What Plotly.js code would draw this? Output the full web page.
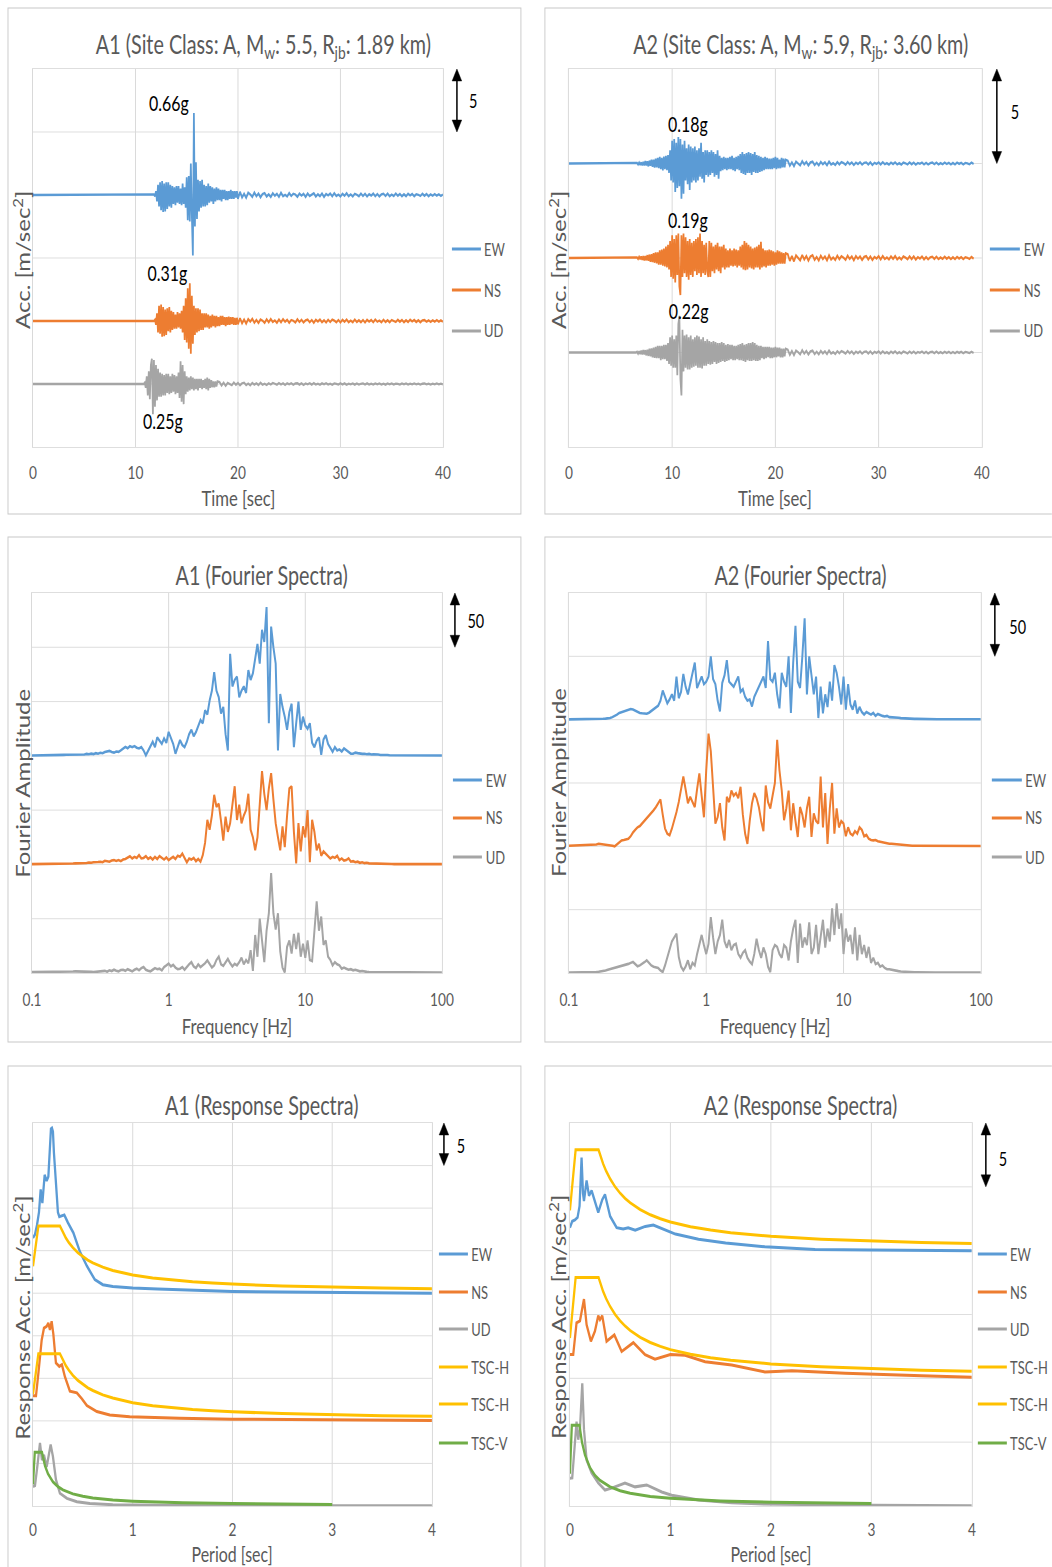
<!DOCTYPE html>
<html><head><meta charset="utf-8">
<script src="https://cdn.plot.ly/plotly-3.0.1.min.js"></script>
<style>
html,body{margin:0;padding:0;overflow:hidden;background:#fff;width:1052px;height:1567px;}
#wrap{position:absolute;left:0;top:0;transform-origin:0 0;}
</style></head><body><div id="wrap"></div>
<script>
// ================= DATA =================
// Accelerograms [m/s^2]; main part sampled every 0.1 s from its start time, coda every 0.2 s after it
const a1EW_t0 = 11.8;
const a1EW_main = [0.05,-0.1,0.3,-0.5,0.8,-0.9,1.0,-1.2,1.1,-1.35,0.9,-1.3,1.0,-1.1,1.0,-0.9,0.8,-1.0,0.7,-0.7,0.6,-0.8,0.7,-0.6,0.7,-0.7,0.5,-0.8,0.9,-0.7,0.6,-1.0,1.4,-2.0,1.5,-2.1,2.5,-1.6,-4.8,6.5,-2.5,2.6,-1.9,1.2,-1.3,1.1,-1.0,1.2,-0.9,0.8,-0.9,0.7,-0.8,0.9,-0.6,0.7,-0.5,0.6,-0.7,0.5,-0.5,0.6,-0.4,0.5,-0.4,0.4,-0.5,0.4,-0.3,0.4,-0.4,0.3,-0.4,0.3,-0.3,0.4,-0.3,0.3,-0.3,0.3,-0.2,0.3,-0.3];
const a1EW_coda = [0.25,-0.2,0.1,-0.22,0.18,0.05,-0.15,0.2,-0.1,0.12,
-0.18,0.08,0.15,-0.12,0.05,-0.16,0.14,-0.06,0.1,-0.15,
0.18,-0.1,0.02,-0.12,0.15,-0.08,0.1,0.04,-0.14,0.12,
-0.05,0.1,-0.15,0.12,-0.08,0.05,0.14,-0.12,0.06,-0.1,
0.12,-0.15,0.08,-0.04,0.12,-0.1,0.15,-0.08,0.04,-0.12,
0.1,-0.06,0.14,-0.1,0.05,-0.12,0.1,0.02,-0.1,0.12,
-0.08,0.1,-0.12,0.06,-0.05,0.12,-0.1,0.08,-0.12,0.05,
0.1,-0.08,0.12,-0.1,0.04,-0.08,0.12,-0.06,0.08,-0.1,
0.06,-0.1,0.1,-0.04,0.08,-0.1,0.06,0.02,-0.08,0.1,
-0.06,0.08,-0.1,0.05,-0.06,0.08,-0.05,0.06,-0.08,0.05];
const a1NS_t0 = 11.9;
const a1NS_main = [0.1,-0.3,0.6,-0.9,1.2,-1.0,1.3,-1.25,1.1,-1.2,0.9,-1.1,1.0,-0.8,1.1,-0.9,0.8,-0.7,0.7,-0.6,0.5,-0.6,0.7,-0.5,0.6,-0.6,0.8,-0.9,1.2,-1.5,1.8,-1.7,2.6,-2.2,3.0,-2.6,2.0,-1.8,1.2,-1.1,1.0,-0.9,1.0,-0.8,0.9,-0.7,0.6,-0.7,0.6,-0.5,0.6,-0.5,0.5,-0.6,0.4,-0.5,0.5,-0.4,0.4,-0.5,0.4,-0.4,0.3,-0.4,0.4,-0.3,0.4,-0.3,0.3,-0.4,0.3,-0.3,0.35,-0.3,0.3,-0.25,0.3,-0.3,0.25,-0.3,0.25,-0.25];
const a1NS_coda = [0.22,-0.18,0.12,-0.2,0.15,-0.05,0.18,-0.14,0.08,-0.16,
0.12,0.03,-0.15,0.14,-0.1,0.16,-0.08,0.05,-0.14,0.12,
-0.1,0.15,-0.06,0.1,-0.14,0.08,0.02,-0.12,0.14,-0.08,
0.1,-0.12,0.05,0.12,-0.1,0.08,-0.14,0.1,-0.04,0.12,
-0.1,0.06,-0.12,0.1,-0.08,0.12,0.03,-0.1,0.08,-0.12,
0.1,-0.06,0.12,-0.1,0.04,-0.1,0.12,-0.08,0.06,-0.1,
0.08,-0.12,0.1,-0.05,0.08,-0.1,0.12,-0.06,0.04,-0.1,
0.1,-0.08,0.06,-0.1,0.08,0.02,-0.08,0.1,-0.06,0.08,
-0.1,0.06,-0.08,0.1,-0.04,0.08,-0.08,0.06,-0.1,0.05,
0.08,-0.06,0.05,-0.08,0.06,-0.05,0.08,-0.06,0.05,-0.06];
const a1UD_t0 = 10.9;
const a1UD_main = [0.1,-0.3,0.6,-0.9,1.0,-1.2,1.5,2.0,-2.4,1.9,-1.8,1.5,-1.3,1.2,-1.0,0.9,-1.0,0.8,-0.9,0.7,-0.9,0.8,-0.7,0.8,-0.8,0.6,-0.7,0.8,-0.6,0.7,-0.8,0.6,-0.7,0.9,-1.1,1.8,-1.4,1.5,-1.6,1.0,-0.8,0.6,-0.6,0.5,-0.5,0.6,-0.4,0.5,-0.5,0.4,-0.4,0.4,-0.5,0.4,-0.3,0.4,-0.4,0.3,-0.3,0.4,-0.4,0.5,-0.5,0.4,-0.3,0.3,-0.25,0.2,-0.25,0.2,-0.2,0.2];
const a1UD_coda = [0.15,-0.12,0.1,-0.15,0.08,0.02,-0.1,0.12,-0.06,0.08,
-0.1,0.06,0.1,-0.08,0.04,-0.1,0.08,-0.05,0.06,-0.08,
0.1,-0.06,0.02,-0.08,0.06,-0.04,0.08,0.02,-0.06,0.08,
-0.04,0.06,-0.08,0.05,-0.03,0.06,-0.06,0.04,0.06,-0.05,
0.06,-0.08,0.04,-0.02,0.06,-0.05,0.07,-0.04,0.02,-0.06,
0.05,-0.03,0.06,-0.05,0.02,-0.06,0.05,0.01,-0.05,0.06,
-0.04,0.05,-0.06,0.03,-0.02,0.05,-0.05,0.04,-0.05,0.02,
0.05,-0.04,0.05,-0.05,0.02,-0.04,0.05,-0.03,0.04,-0.05,
0.03,-0.05,0.05,-0.02,0.04,-0.05,0.03,0.01,-0.04,0.05,
-0.03,0.04,-0.05,0.02,-0.03,0.04,-0.02,0.03,-0.04,0.02,
0.04,-0.03,0.03,-0.04,0.02,-0.03,0.04,-0.02,0.03,-0.03];

const a2EW_t0 = 6.6;
const a2EW_main = [0.03,-0.05,0.05,-0.08,0.06,-0.1,0.08,-0.1,0.12,-0.1,
0.12,-0.15,0.15,-0.12,0.2,-0.18,0.2,-0.22,0.25,-0.2,
0.3,-0.25,0.35,-0.3,0.3,-0.36,0.36,-0.3,0.4,-0.35,
0.45,-0.5,0.7,-0.9,1.2,-1.0,1.3,-1.5,1.1,-1.3,
1.4,-1.2,1.3,-1.86,1.0,-1.6,1.2,-0.9,0.8,-1.1,
1.0,-1.4,0.9,-1.0,0.8,-0.9,0.9,-1.0,0.7,-0.9,
0.8,-0.7,1.1,-0.8,0.6,-1.0,0.7,-0.6,0.7,-0.7,
0.6,-0.6,0.7,-0.5,0.6,-0.7,0.5,-0.6,0.7,-0.8,
0.4,-0.4,0.3,-0.35,0.35,-0.3,0.3,-0.35,0.3,-0.3,
0.35,-0.3,0.4,-0.35,0.3,-0.4,0.35,-0.3,0.4,-0.35,
0.5,-0.5,0.6,-0.55,0.5,-0.6,0.55,-0.5,0.6,-0.5,
0.55,-0.6,0.5,-0.45,0.6,-0.5,0.45,-0.5,0.4,-0.45,
0.35,-0.4,0.3,-0.35,0.35,-0.3,0.3,-0.3,0.25,-0.3,
0.25,-0.3,0.3,-0.25,0.35,-0.3,0.3,-0.25,0.2,-0.25,
0.3,-0.2,0.25,-0.2,0.2];
const a2EW_coda = [0.15,-0.12,0.06,-0.14,0.1,0.02,-0.1,0.12,-0.05,0.08,
-0.1,0.06,0.1,-0.08,0.04,-0.1,0.08,-0.04,0.06,-0.09,
0.1,-0.06,0.02,-0.08,0.07,-0.05,0.08,0.02,-0.07,0.08,
-0.04,0.06,-0.08,0.05,-0.03,0.07,-0.06,0.04,0.06,-0.05,
0.06,-0.08,0.04,-0.02,0.06,-0.05,0.07,-0.04,0.02,-0.06,
0.05,-0.03,0.06,-0.05,0.02,-0.06,0.05,0.01,-0.05,0.06,
-0.04,0.05,-0.06,0.03,-0.02,0.05,-0.05,0.04,-0.05,0.02,
0.05,-0.04,0.05,-0.05,0.02,-0.04,0.05,-0.03,0.04,-0.05,
0.03,-0.05,0.05,-0.02,0.04,-0.05,0.03,0.01,-0.04,0.05,
-0.03];
const a2NS_t0 = 6.6;
const a2NS_main = [0.03,-0.05,0.06,-0.06,0.08,-0.1,0.1,-0.12,0.1,-0.12,
0.15,-0.15,0.18,-0.2,0.2,-0.22,0.25,-0.25,0.3,-0.28,
0.3,-0.35,0.4,-0.35,0.45,-0.4,0.5,-0.45,0.6,-0.5,
0.7,-0.6,0.9,-1.0,1.2,-1.1,1.0,-1.3,1.2,-0.9,
1.3,-1.5,-1.96,1.2,-1.0,1.3,-0.8,1.1,-1.0,0.9,
-1.15,1.0,-0.9,0.8,-1.0,0.9,-0.7,1.0,-0.9,1.1,
-0.8,1.3,-1.0,0.9,-0.8,0.7,-0.9,0.8,-0.7,-1.0,
0.9,-1.0,0.8,-0.7,0.6,-0.8,0.7,-0.6,0.8,-0.7,
0.6,-0.8,0.6,-0.5,0.7,-0.6,0.5,-0.5,0.4,-0.5,
0.5,-0.4,0.4,-0.45,0.5,-0.4,0.45,-0.5,0.4,-0.4,
0.6,-0.5,0.7,-0.6,0.9,-0.65,0.8,-0.6,0.7,-0.5,
0.6,-0.55,0.5,-0.6,0.55,-0.5,0.6,-0.5,0.7,-0.6,
0.85,-0.5,0.5,-0.45,0.4,-0.5,0.4,-0.4,0.45,-0.4,
0.4,-0.35,0.35,-0.4,0.3,-0.35,0.4,-0.3,0.35,-0.3,
0.3,-0.3,0.25,-0.3,0.25];
const a2NS_coda = [0.2,-0.15,0.1,-0.18,0.14,0.03,-0.12,0.16,-0.08,0.1,
-0.14,0.08,0.15,-0.1,0.05,-0.13,0.12,-0.06,0.08,-0.12,
0.14,-0.08,0.03,-0.1,0.12,-0.06,0.1,0.02,-0.1,0.12,
-0.05,0.08,-0.12,0.1,-0.04,0.08,-0.1,0.06,0.1,-0.08,
0.08,-0.1,0.06,-0.03,0.1,-0.08,0.1,-0.06,0.03,-0.08,
0.08,-0.05,0.1,-0.08,0.03,-0.08,0.08,0.02,-0.07,0.08,
-0.06,0.08,-0.08,0.05,-0.03,0.08,-0.07,0.05,-0.07,0.03,
0.07,-0.05,0.07,-0.06,0.03,-0.05,0.07,-0.04,0.05,-0.06,
0.04,-0.06,0.06,-0.03,0.05,-0.06,0.04,0.01,-0.05,0.06,
-0.04];
const a2UD_t0 = 6.6;
const a2UD_main = [0.04,-0.06,0.06,-0.08,0.1,-0.1,0.12,-0.1,0.12,-0.15,
0.15,-0.18,0.2,-0.2,0.22,-0.25,0.25,-0.28,0.3,-0.3,
0.35,-0.3,0.35,-0.4,0.35,-0.35,0.4,-0.35,0.4,-0.45,
0.5,-0.6,0.8,-0.7,0.9,-0.8,0.7,-0.8,0.9,-1.2,
1.5,1.94,-1.4,-2.27,1.2,-1.0,0.9,-0.8,0.95,-0.9,
0.8,-0.9,0.9,-0.8,0.7,-0.75,0.8,-0.7,0.9,-0.8,
0.85,-0.8,0.7,-0.85,0.8,-0.7,0.6,-0.7,0.7,-0.6,
0.6,-0.65,0.55,-0.6,0.6,-0.5,0.55,-0.6,0.5,-0.55,
0.5,-0.5,0.55,-0.45,0.5,-0.5,0.4,-0.45,0.45,-0.4,
0.4,-0.35,0.4,-0.4,0.35,-0.4,0.35,-0.35,0.4,-0.4,
0.45,-0.4,0.5,-0.45,0.4,-0.5,0.45,-0.4,0.5,-0.45,
0.5,-0.45,0.55,-0.4,0.5,-0.45,0.4,-0.45,0.35,-0.4,
0.35,-0.3,0.3,-0.35,0.3,-0.3,0.3,-0.25,0.3,-0.3,
0.25,-0.3,0.25,-0.25,0.3,-0.25,0.25,-0.2,0.25,-0.25,
0.2,-0.25,0.2,-0.2,0.2];
const a2UD_coda = [0.15,-0.12,0.08,-0.14,0.1,0.02,-0.1,0.12,-0.06,0.08,
-0.1,0.06,0.1,-0.08,0.04,-0.1,0.08,-0.05,0.06,-0.08,
0.1,-0.06,0.02,-0.08,0.07,-0.04,0.08,0.02,-0.06,0.08,
-0.04,0.06,-0.08,0.05,-0.03,0.06,-0.06,0.04,0.06,-0.05,
0.06,-0.07,0.04,-0.02,0.06,-0.05,0.06,-0.04,0.02,-0.06,
0.05,-0.03,0.06,-0.05,0.02,-0.05,0.05,0.01,-0.05,0.05,
-0.04,0.05,-0.05,0.03,-0.02,0.05,-0.04,0.04,-0.05,0.02,
0.04,-0.04,0.05,-0.04,0.02,-0.04,0.04,-0.03,0.04,-0.04,
0.03,-0.04,0.04,-0.02,0.04,-0.04,0.03,0.01,-0.03,0.04,
-0.03];

// Fourier amplitudes, 60 samples per decade from 0.1 Hz to 100 Hz
const fsA1_EW = [0.3,0.3,0.4,0.4,0.5,0.5,0.5,0.6,0.6,0.7,0.7,
0.8,0.8,0.9,0.9,1.0,1.0,1.1,1.2,1.2,1.3,
1.2,1.5,1.3,1.8,1.5,2.0,1.6,2.5,2.0,2.8,
2.4,3.5,4.0,4.6,3.5,3.0,4.0,3.7,5.0,6.5,
8.3,7.0,9.0,8.0,9.0,7.5,6.8,8.0,5.0,0.5,
5,9,13,8,17,14,11,16,12,22,
16,11,2,8,14.5,10,8,13,20,24,
18,22,28,33,30,42,38,51,60,77,
60,54,39,45,20,5,94,64,70,73,
54,60,64,58,79,70,76,90,103,85,
116,105,137,30,119,100,85,5,57,45,
36,24,40,48,8,30,50,24,36,28,
25,30,12,8,14,17,1,15,19,11,
7,3.7,8,5,6,4,6.8,5,3,2,
2,3,2.5,2,1.8,2,1.5,1.8,1.2,1.5,
1.0,1.2,0.8,1.0,0.7,0.8,0.6,0.6,0.5,0.5,
0.5,0.4,0.4,0.4,0.3,0.3,0.3,0.3,0.3,0.3,
0.3,0.3,0.3,0.3,0.3,0.3,0.3,0.3,0.3,0.3];
const fsA1_NS = [0.3,0.3,0.3,0.4,0.4,0.5,0.5,0.5,0.5,0.6,0.6,
0.6,0.7,0.7,0.8,0.8,0.8,0.9,0.9,1.0,1.0,
1.2,1.0,1.5,1.3,1.8,1.5,2.0,1.8,2.2,2.5,
2.0,3.4,3.0,2.5,3.6,4.0,3.2,4.0,3.0,4.5,
5.0,6.0,7.5,5.5,7.0,6.0,8.6,5.5,6.0,7.7,
5.0,6.5,4.5,7.0,5.0,7.7,6.0,4.5,6.5,4.0,
5.5,7.0,5.0,8.0,7.0,10.0,6.0,2.0,5.5,4.5,
6.0,3.0,5.0,2.5,8.6,20,41,32,45,64,
53,56,40,22,44,30,38,55,72,41,
55,38,45,50,65,32,25,13,25,55,
86,65,50,70,84,60,38,25,13,35,
16,45,70,72,30,1,38,12,35,25,
50,2,41,30,13,19,8,12,10,8,
5.5,7,6,8,4,5.5,3.5,4,5.5,2.5,
3,2,2.5,1.5,2,1.2,1.5,1,1,0.8,
0.7,0.6,0.6,0.5,0.5,0.4,0.4,0.4,0.3,0.3,
0.3,0.3,0.3,0.3,0.3,0.3,0.3,0.3,0.3,0.3,
0.3,0.3,0.3,0.3,0.3,0.3,0.3,0.3,0.3,0.3];
const fsA1_UD = [0.8,0.8,0.9,0.9,1.0,1.0,1.0,1.1,1.1,1.2,1.2,
1.2,1.3,1.3,1.3,1.3,1.4,1.4,1.4,1.5,1.5,
1.5,1.4,1.6,1.3,1.2,1.0,0.8,1.0,1.3,0.9,
1.5,2.0,1.2,2.5,1.8,3.0,2.0,1.5,2.8,3.0,
2.0,3.5,2.5,1.5,3.0,4.0,2.5,4.5,5.5,3.0,
2.0,1.5,3.0,4.5,3.5,4.0,2.5,5.5,7.0,8.6,
6.0,7.5,5.0,3.5,4.0,5.5,3.0,6.0,8.0,10.0,
6.0,4.5,8.0,5.5,7.0,9.0,11.7,8.0,5.0,7.0,
12,15,8,6.5,10,13,9,6,8.5,7,
10,14,8,12,9,21,2,35,15,50,
30,10,39,55,92,55,40,55,20,5,
0.5,24,30,18,36,22,37,15,27,14,
30,12,11,40,66,39,52,26,30,15,
12,7,10,8,7,4,5,4,3,3.5,
2.5,3,2,1.5,1.8,1.2,1,0.8,0.8,0.6,
0.5,0.5,0.4,0.4,0.4,0.3,0.3,0.3,0.3,0.3,
0.3,0.3,0.3,0.3,0.3,0.3,0.3,0.3,0.3,0.3,
0.3,0.3,0.3,0.3,0.3,0.3,0.3,0.3,0.3,0.3];
const fsA2_EW = [0.2,0.2,0.2,0.3,0.3,0.3,0.3,0.4,0.4,0.4,0.5,
0.5,0.5,0.6,0.6,0.7,0.8,0.9,1.3,2.0,2.8,
4.0,5.3,6.0,6.5,7.0,7.8,8.4,8.0,7.0,6.0,
5.3,5.0,4.8,4.7,5.5,7.0,8.7,10,11,15,
23,18,13,16,20,15,34,17,22,36,
26,20,28,35,45,25,30,34,28,30,
34,50,32,28,15,6.6,29,35,47,30,
28,26,30,34,22,24,18,15,16,10.5,
18,22,26,30,34,25,62,32,30,37,
20,9,37,30,26,50,5.3,45,74,30,
25,50,80,20,50,35,20,34,1.3,26,
5,20,10,30,15,43,37,26,12,34,
8,28,12,8,15,5,10,6,4,6,
5,4,5.3,3,4.5,3.5,3,2.5,3,2,
2,1.8,2,1.5,1.2,1,1,0.8,0.8,0.7,
0.6,0.6,0.5,0.5,0.5,0.4,0.4,0.4,0.3,0.3,
0.3,0.3,0.3,0.3,0.3,0.3,0.3,0.3,0.3,0.3,
0.3,0.3,0.3,0.3,0.3,0.3,0.3,0.3,0.3,0.3];
const fsA2_NS = [0.5,0.6,0.6,0.7,0.7,0.8,0.8,0.9,0.9,1.0,1.0,
1.2,1.5,2.0,1.8,1.5,1.6,1.4,1.0,0.5,0.0,
1.5,3.0,4.7,5.0,5.5,6.0,8.0,11,13,15,
16,18,20.6,22,24,26,28.5,31,34,37,
25,14,10,8.7,14,20,27,35,45,55,
45,34,39,35,31,45,57.5,40,23,60,
89,75,45,18,23,34,15,4.7,39,35,
44,40,42,38,47,25,10,2,20,34,
42,38,31,20,12,48,35,30,40,50,
84,60,44,20.6,30,44,12.7,34,20,7.4,
31,25,15,30,39,7.4,26,20,18,55,
15,42,2,30,50,10,30,15,20,18,
8,15,10,8.7,12,10,15,13,8,9,
6,5,4.7,5,4,3.5,3,3,2.5,2,
2,1.8,1.5,1.2,1,0.8,0.8,0.7,0.6,0.5,
0.5,0.5,0.4,0.4,0.4,0.3,0.3,0.3,0.3,0.3,
0.3,0.3,0.3,0.3,0.3,0.3,0.3,0.3,0.3,0.3,
0.3,0.3,0.3,0.3,0.3,0.3,0.3,0.3,0.3,0.3];
const fsA2_UD = [0.3,0.3,0.3,0.4,0.4,0.4,0.5,0.5,0.5,0.6,0.6,
0.7,0.8,1.0,1.2,1.5,2.0,2.5,3.0,3.4,4.0,
4.5,5.0,5.5,6.0,6.5,7.2,8.0,8.7,7.0,5.3,
6.0,7.0,8.5,10,8,6,5,4.7,4,2,
0.8,6,12,19,25,28,31,12.7,5,2,
5,10,3,8,6,15,22,30,22,15,
23,44,28,15,25,30,42,25,20,26,
18,22,23,15,12,16,18,12,9,7,
15,27,18,12,20,15,5,0.8,18,22,
20.6,15,12,22,20,10,25,35,42,8,
39,20,28,22,40,15,20,38,15,30,
42,20,35,25,51,30,55,35,47,15,
35,25,30,15,36,10,30,15,22,12,
20.6,8,12,7,8,5,6,4,3,3,
2.5,2,2,1.5,1.2,1,0.8,0.8,0.7,0.6,
0.5,0.5,0.4,0.4,0.4,0.3,0.3,0.3,0.3,0.3,
0.3,0.3,0.3,0.3,0.3,0.3,0.3,0.3,0.3,0.3,
0.3,0.3,0.3,0.3,0.3,0.3,0.3,0.3,0.3,0.3];

// Response spectra [m/s^2] vs period [s]
const rsA1_EW_T = [0,0.02,0.04,0.06,0.077,0.094,0.117,0.137,0.154,0.17,0.18,0.19,0.2,0.21,0.23,0.25,0.264,0.29,0.314,0.35,0.405,0.47,0.54,0.62,0.7,0.8,1.0,1.25,1.5,2.0,2.5,3.0,3.5,4.0];
const rsA1_EW   = [6.5,6.9,8.0,9.5,12.2,10.6,13.9,13.2,13.7,17.5,19.3,19.4,19.0,16.5,12.5,9.5,9.0,9.1,9.2,8.3,7.1,4.9,3.2,1.6,1.0,0.8,0.6,0.5,0.4,0.2,0.15,0.1,0.05,0.0];
const rsA1_NS_T = [0,0.03,0.054,0.087,0.11,0.137,0.154,0.17,0.187,0.204,0.23,0.264,0.29,0.32,0.37,0.44,0.49,0.54,0.64,0.77,0.97,1.47,2.0,3.0,4.0];
const rsA1_NS   = [2.94,2.94,5.6,9.5,10.9,11.1,11.5,10.7,11.7,10.2,6.8,6.4,6.6,5.2,3.5,3.3,2.6,1.8,1.1,0.7,0.5,0.3,0.2,0.1,0.05];
const rsA1_UD_T = [0,0.02,0.043,0.07,0.09,0.11,0.137,0.16,0.177,0.2,0.23,0.27,0.34,0.44,0.57,0.8,1.0,1.5,2.0,3.0,4.0];
const rsA1_UD   = [2.27,2.4,4.6,7.4,5.4,6.0,4.6,6.0,7.2,5.8,3.1,1.5,0.9,0.5,0.3,0.15,0.1,0.06,0.04,0.03,0.02];
const tscA1_H_T = [0,0.054,0.27,0.3,0.33,0.36,0.4,0.45,0.5,0.55,0.6,0.7,0.8,0.9,1.0,1.2,1.4,1.6,1.8,2.0,2.5,3.0,3.5,4.0];
const tscA1_H   = [3.16,7.9,7.9,7.13,6.48,5.94,5.35,4.76,4.28,3.89,3.57,3.06,2.68,2.38,2.14,1.78,1.53,1.34,1.19,1.07,0.86,0.71,0.61,0.54];
const tscA1_V_T = [0,0.018,0.09,0.1,0.12,0.15,0.2,0.25,0.3,0.4,0.5,0.6,0.8,1.0,1.25,1.5,2.0,2.5,3.0];
const tscA1_V   = [2.53,6.32,6.32,5.69,4.74,3.79,2.84,2.28,1.9,1.42,1.14,0.95,0.71,0.57,0.46,0.38,0.28,0.23,0.19];

const rsA2_EW_T = [0,0.023,0.05,0.076,0.096,0.116,0.13,0.14,0.166,0.19,0.216,0.243,0.282,0.322,0.349,0.4,0.465,0.53,0.58,0.65,0.75,0.83,0.95,1.05,1.28,1.55,1.94,2.44,3.0,3.5,4.0];
const rsA2_EW   = [1.8,2.3,2.4,2.6,3.5,7.3,4.5,3.9,5.5,4.3,4.7,4.0,3.0,4.0,4.4,2.7,1.8,1.7,1.8,1.6,1.9,2.0,1.6,1.3,0.9,0.6,0.3,0.1,0.05,0.02,0.0];
const rsA2_NS_T = [0,0.033,0.066,0.1,0.14,0.166,0.209,0.249,0.282,0.299,0.322,0.365,0.442,0.515,0.631,0.748,0.847,0.947,1.0,1.146,1.345,1.61,1.94,2.21,2.74,3.5,4.0];
const rsA2_NS   = [1.86,1.86,4.35,4.5,6.2,4.2,2.9,3.7,4.9,4.6,4.9,2.9,3.4,2.1,2.8,1.86,1.5,1.7,1.86,1.8,1.3,1.05,0.5,0.6,0.4,0.2,0.08];
const rsA2_UD_T = [0,0.023,0.066,0.083,0.1,0.123,0.14,0.166,0.216,0.282,0.349,0.415,0.548,0.648,0.764,0.914,1.013,1.28,1.61,1.94,3.0,4.0];
const rsA2_UD   = [2.17,2.2,6.6,5.2,6.0,9.6,6.0,3.6,2.6,1.8,1.25,1.4,1.8,1.5,1.65,1.1,0.85,0.47,0.26,0.15,0.06,0.02];
const tscA2_H_T = [0,0.057,0.285,0.3,0.33,0.36,0.4,0.45,0.5,0.55,0.6,0.7,0.8,0.9,1.0,1.2,1.4,1.6,1.8,2.0,2.5,3.0,3.5,4.0];
const tscA2_H   = [3.16,7.9,7.9,7.5,6.82,6.25,5.63,5.0,4.5,4.09,3.75,3.21,2.81,2.5,2.25,1.88,1.61,1.41,1.25,1.13,0.9,0.75,0.64,0.56];
const tscA2_V_T = [0,0.019,0.095,0.12,0.15,0.2,0.25,0.3,0.4,0.5,0.6,0.8,1.0,1.25,1.5,2.0,2.5,3.0];
const tscA2_V   = [2.53,6.32,6.32,5.0,4.0,3.0,2.4,2.0,1.5,1.2,1.0,0.75,0.6,0.48,0.4,0.3,0.24,0.2];

// vertical offsets used to stack the components in each chart
const offTimeA1 = [20, 10, 5];
const offTimeA2 = [15, 10, 5];
const offFS = [200, 100, 0];
const offRSA1 = [25, 10, 0];
const offRSA2 = [20, 10, 0];

const compNames = ['EW', 'NS', 'UD'];
const rsNames = ['EW', 'NS', 'UD', 'TSC-H', 'TSC-H', 'TSC-V'];
const peakLabelsA1 = ['0.66g', '0.31g', '0.25g'];
const peakLabelsA2 = ['0.18g', '0.19g', '0.22g'];
const timeTicks = [0, 10, 20, 30, 40];
const freqTicks = [0.1, 1, 10, 100];
const freqTickText = ['0.1', '1', '10', '100'];
const periodTicks = [0, 1, 2, 3, 4];

// ================= STYLE / LAYOUT =================
const K = 0.76;              // horizontal compression of the original picture
const W = 1052, H = 1567;
const FONT = 'Lato, "Open Sans", sans-serif';
const GRAY = '#595959';
const GRID = '#D9D9D9';
const C = {EW:'#5B9BD5', NS:'#ED7D31', UD:'#A5A5A5', H:'#FFC000', V:'#70AD47'};
const MAIN_DT = 0.1, CODA_DT = 0.2, FS_PER_DECADE = 60;

const wrap = document.getElementById('wrap');
wrap.style.width = (W / K) + 'px';
wrap.style.height = H + 'px';
wrap.style.transform = 'scaleX(' + K + ')';

const px = x => x / W, py = y => 1 - y / H;
const axId = (n) => n === 1 ? '' : String(n);

// plot areas in page pixels [x0, x1, yTop, yBottom]
const boxes = [
  [33, 443, 69, 447], [569, 982, 69, 447],
  [32, 442, 593, 973], [569, 981, 593, 973],
  [33, 432, 1123, 1506], [570, 972, 1123, 1506]
];
const ySpecs = [[0,30,5],[0,20,5],[0,350,50],[0,300,50],[0,45,5],[0,30,5]];
const tickStandoff = [9, 9, 10, 10, 7, 7];

const traces = [];
function tsTrace(n, main, t0, coda, off, color) {
  const x = [0, t0 - MAIN_DT], y = [off, off];
  main.forEach((v, i) => { x.push(t0 + i * MAIN_DT); y.push(off + v); });
  const c0 = t0 + (main.length - 1) * MAIN_DT + CODA_DT;
  coda.forEach((v, i) => { x.push(c0 + i * CODA_DT); y.push(off + v); });
  traces.push({type:'scatter', mode:'lines', x, y, xaxis:'x'+axId(n), yaxis:'y'+axId(n),
    line:{color, width:2.3}, showlegend:false, hoverinfo:'skip'});
}
function fsTrace(n, vals, off, color) {
  const x = vals.map((v, i) => 0.1 * Math.pow(10, i / FS_PER_DECADE));
  const y = vals.map(v => v + off);
  traces.push({type:'scatter', mode:'lines', x, y, xaxis:'x'+axId(n), yaxis:'y'+axId(n),
    line:{color, width:2.6}, showlegend:false, hoverinfo:'skip'});
}
function rsTrace(n, T, vals, off, color) {
  traces.push({type:'scatter', mode:'lines', x:T, y:vals.map(v => v + off),
    xaxis:'x'+axId(n), yaxis:'y'+axId(n), line:{color, width:3}, showlegend:false, hoverinfo:'skip'});
}

tsTrace(1, a1EW_main, a1EW_t0, a1EW_coda, offTimeA1[0], C.EW);
tsTrace(1, a1NS_main, a1NS_t0, a1NS_coda, offTimeA1[1], C.NS);
tsTrace(1, a1UD_main, a1UD_t0, a1UD_coda, offTimeA1[2], C.UD);
tsTrace(2, a2EW_main, a2EW_t0, a2EW_coda, offTimeA2[0], C.EW);
tsTrace(2, a2NS_main, a2NS_t0, a2NS_coda, offTimeA2[1], C.NS);
tsTrace(2, a2UD_main, a2UD_t0, a2UD_coda, offTimeA2[2], C.UD);
fsTrace(3, fsA1_EW, offFS[0], C.EW);
fsTrace(3, fsA1_NS, offFS[1], C.NS);
fsTrace(3, fsA1_UD, offFS[2], C.UD);
fsTrace(4, fsA2_EW, offFS[0], C.EW);
fsTrace(4, fsA2_NS, offFS[1], C.NS);
fsTrace(4, fsA2_UD, offFS[2], C.UD);
rsTrace(5, rsA1_EW_T, rsA1_EW, offRSA1[0], C.EW);
rsTrace(5, rsA1_NS_T, rsA1_NS, offRSA1[1], C.NS);
rsTrace(5, rsA1_UD_T, rsA1_UD, offRSA1[2], C.UD);
rsTrace(5, tscA1_H_T, tscA1_H, offRSA1[0], C.H);
rsTrace(5, tscA1_H_T, tscA1_H, offRSA1[1], C.H);
rsTrace(5, tscA1_V_T, tscA1_V, offRSA1[2], C.V);
rsTrace(6, rsA2_EW_T, rsA2_EW, offRSA2[0], C.EW);
rsTrace(6, rsA2_NS_T, rsA2_NS, offRSA2[1], C.NS);
rsTrace(6, rsA2_UD_T, rsA2_UD, offRSA2[2], C.UD);
rsTrace(6, tscA2_H_T, tscA2_H, offRSA2[0], C.H);
rsTrace(6, tscA2_H_T, tscA2_H, offRSA2[1], C.H);
rsTrace(6, tscA2_V_T, tscA2_V, offRSA2[2], C.V);

const layout = {width: W / K, height: H, margin:{l:0,r:0,t:0,b:0}, paper_bgcolor:'#fff', plot_bgcolor:'#fff',
  showlegend:false, annotations:[], shapes:[]};

const xSpecs = [
  {range:[0,40], tickvals:timeTicks}, {range:[0,40], tickvals:timeTicks},
  {type:'log', range:[-1,2], tickvals:freqTicks, ticktext:freqTickText},
  {type:'log', range:[-1,2], tickvals:freqTicks, ticktext:freqTickText},
  {range:[0,4], tickvals:periodTicks}, {range:[0,4], tickvals:periodTicks}
];
boxes.forEach((b, i) => {
  const n = i + 1, id = axId(n);
  layout['xaxis' + id] = Object.assign({
    domain:[px(b[0]), px(b[1])], anchor:'y' + id, showgrid:true, gridcolor:GRID, gridwidth:1.3,
    zeroline:false, showline:true, mirror:true, linecolor:GRID, linewidth:1, ticks:'',
    ticklabelstandoff:tickStandoff[i], tickfont:{family:FONT, size:18, color:GRAY}, fixedrange:true
  }, xSpecs[i]);
  layout['yaxis' + id] = {
    domain:[py(b[3]), py(b[2])], anchor:'x' + id, range:[ySpecs[i][0], ySpecs[i][1]],
    dtick:ySpecs[i][2], tick0:0, showgrid:true, gridcolor:GRID, gridwidth:1, zeroline:false,
    showline:true, mirror:true, linecolor:GRID, linewidth:1.3, showticklabels:false, ticks:'', fixedrange:true
  };
});

const A = layout.annotations, S = layout.shapes;
function txt(x, y, text, size, color, extra) {
  A.push(Object.assign({xref:'paper', yref:'paper', x:px(x), y:py(y), text, showarrow:false,
    font:{family:FONT, size, color}, xanchor:'center', yanchor:'middle'}, extra || {}));
}
// panel frames
[[8,521,8,514],[545,1100,8,514],[8,521,537,1042],[545,1100,537,1042],[8,521,1066,1600],[545,1100,1066,1600]]
.forEach(r => S.push({type:'rect', xref:'paper', yref:'paper', x0:px(r[0]), x1:px(r[1]), y0:py(r[3]), y1:py(r[2]),
  line:{color:'#C8C8C8', width:1.2}, fillcolor:'rgba(0,0,0,0)', layer:'below'}));

// titles
txt(263, 45, 'A1 (Site Class: A, M<sub>w</sub>: 5.5, R<sub>jb</sub>: 1.89 km)', 26, GRAY);
txt(801, 45, 'A2 (Site Class: A, M<sub>w</sub>: 5.9, R<sub>jb</sub>: 3.60 km)', 26, GRAY);
txt(262, 575, 'A1 (Fourier Spectra)', 26, GRAY);
txt(801, 575, 'A2 (Fourier Spectra)', 26, GRAY);
txt(262, 1105, 'A1 (Response Spectra)', 26, GRAY);
txt(801, 1105, 'A2 (Response Spectra)', 26, GRAY);
// axis titles
txt(238, 497, 'Time [sec]', 22, GRAY);
txt(775, 497, 'Time [sec]', 22, GRAY);
txt(237, 1025, 'Frequency [Hz]', 22, GRAY);
txt(775, 1025, 'Frequency [Hz]', 22, GRAY);
txt(232, 1553, 'Period [sec]', 21, GRAY);
txt(771, 1553, 'Period [sec]', 21, GRAY);
txt(22, 260, 'Acc. [m/sec<sup>2</sup>]', 24, GRAY, {textangle:-90});
txt(558, 260, 'Acc. [m/sec<sup>2</sup>]', 24, GRAY, {textangle:-90});
txt(22, 783, 'Fourier Amplitude', 24, GRAY, {textangle:-90});
txt(558, 783, 'Fourier Amplitude', 24, GRAY, {textangle:-90});
txt(22, 1317, 'Response Acc. [m/sec<sup>2</sup>]', 24, GRAY, {textangle:-90});
txt(558, 1317, 'Response Acc. [m/sec<sup>2</sup>]', 24, GRAY, {textangle:-90});
// peak labels
[[169,103],[167,273],[163,421]].forEach((p, i) => txt(p[0], p[1], peakLabelsA1[i], 21, '#000'));
[[688,123],[688,220],[689,310]].forEach((p, i) => txt(p[0], p[1], peakLabelsA2[i], 21, '#000'));
// scale bars: double arrow spanning one grid interval of the chart's own y axis
function scaleArrow(n, xPix, yTop, yBot, label, lx, ly) {
  const b = boxes[n - 1], r = ySpecs[n - 1];
  const upp = (r[1] - r[0]) / (b[3] - b[2]);
  const hh = 12 * upp, hw = 4.8 / W, xc = px(xPix), yref = 'y' + axId(n);
  S.push({type:'line', xref:'paper', yref, x0:xc, x1:xc, y0:yTop - hh * 0.5, y1:yBot + hh * 0.5,
    line:{color:'#000', width:2}});
  S.push({type:'path', xref:'paper', yref, fillcolor:'#000', line:{color:'#000', width:0.5},
    path:'M' + (xc - hw) + ',' + (yTop - hh) + ' L' + xc + ',' + yTop + ' L' + (xc + hw) + ',' + (yTop - hh) + ' Z'});
  S.push({type:'path', xref:'paper', yref, fillcolor:'#000', line:{color:'#000', width:0.5},
    path:'M' + (xc - hw) + ',' + (yBot + hh) + ' L' + xc + ',' + yBot + ' L' + (xc + hw) + ',' + (yBot + hh) + ' Z'});
  txt(lx, ly, label, 19, '#000');
}
scaleArrow(1, 457, 30, 25, '5', 473, 100);
scaleArrow(2, 997, 20, 15, '5', 1015, 112);
scaleArrow(3, 455, 350, 300, '50', 476, 620);
scaleArrow(4, 995, 300, 250, '50', 1018, 626);
scaleArrow(5, 444, 45, 40, '5', 461, 1145);
scaleArrow(6, 986, 30, 25, '5', 1003, 1158);
// legends
function legend(x0, x1, ys, names, colors) {
  ys.forEach((y, i) => {
    S.push({type:'line', xref:'paper', yref:'paper', x0:px(x0), x1:px(x1), y0:py(y), y1:py(y), line:{color:colors[i], width:3}});
    txt(x1 + 2, y, names[i], 17, GRAY, {xanchor:'left'});
  });
}
const cc = [C.EW, C.NS, C.UD];
legend(452, 481, [249, 290, 331], compNames, cc);
legend(990, 1020, [249, 290, 331], compNames, cc);
legend(453, 482, [780, 818, 857], compNames, cc);
legend(992, 1022, [780, 818, 857], compNames, cc);
const rsY = [1254, 1292, 1329, 1367, 1404, 1443], rsC = [C.EW, C.NS, C.UD, C.H, C.H, C.V];
legend(439, 468, rsY, rsNames, rsC);
legend(978, 1007, rsY, rsNames, rsC);

Plotly.newPlot(wrap, traces, layout, {staticPlot:true, displayModeBar:false});
</script></body></html>
